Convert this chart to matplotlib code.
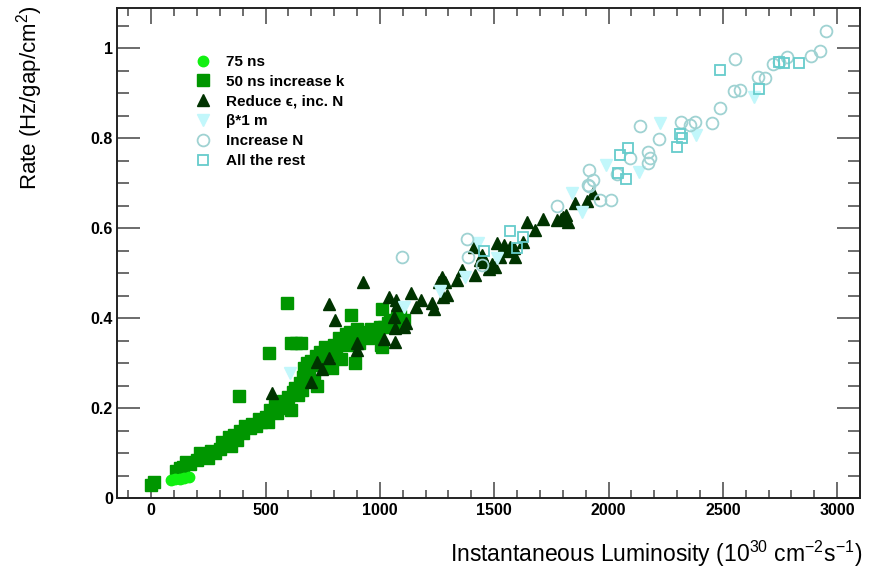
import matplotlib
matplotlib.use("Agg")
import matplotlib.pyplot as plt
from matplotlib.ticker import MultipleLocator, FuncFormatter

# ---------------- data ----------------
lumi_75ns = [85, 105, 125, 145, 165]
rate_75ns = [0.040, 0.042, 0.043, 0.045, 0.046]

lumi_50ns = [0, 10, 110, 125, 140, 150, 170, 200, 215, 230, 250, 260, 280, 300, 310, 330,
             340, 350, 360, 375, 390, 400, 410, 430, 440, 460, 470, 480, 500, 510, 520,
             540, 550, 560, 575, 590, 600, 610, 620, 630, 640, 650, 660, 665, 670, 680,
             690, 700, 710, 720, 725, 735, 740, 750, 760, 770, 780, 790, 800, 810, 820,
             830, 840, 850, 860, 870, 880, 890, 900, 910, 920, 935, 950, 960, 975, 990,
             1000, 1005, 1010, 1020, 1035, 1045, 1060, 1075, 1090, 1105,
             382, 515, 593, 610, 635, 655, 872, 1010]
rate_50ns = [0.030, 0.036, 0.060, 0.066, 0.070, 0.080, 0.075, 0.085, 0.100, 0.095, 0.090,
             0.105, 0.100, 0.110, 0.125, 0.120, 0.135, 0.115, 0.140, 0.130, 0.150, 0.145,
             0.160, 0.155, 0.165, 0.160, 0.175, 0.170, 0.180, 0.170, 0.195, 0.205, 0.190,
             0.200, 0.215, 0.210, 0.225, 0.195, 0.235, 0.245, 0.230, 0.255, 0.240, 0.270,
             0.290, 0.300, 0.280, 0.305, 0.260, 0.315, 0.250, 0.295, 0.325, 0.310, 0.335,
             0.300, 0.320, 0.290, 0.340, 0.330, 0.355, 0.310, 0.345, 0.365, 0.340, 0.370,
             0.350, 0.300, 0.375, 0.345, 0.360, 0.370, 0.355, 0.375, 0.365, 0.370, 0.380,
             0.340, 0.335, 0.380, 0.390, 0.395, 0.385, 0.400, 0.405, 0.395,
             0.227, 0.322, 0.433, 0.344, 0.344, 0.344, 0.407, 0.421]

lumi_reduce = [527, 698, 724, 748, 777, 802, 776, 898, 898, 925, 1017, 1064, 1068, 1105,
               1112, 1061, 1038, 1076, 1070, 1138, 1160, 1180, 1228, 1235, 1278, 1260, 1272,
               1286, 1294, 1337, 1359, 1417, 1460, 1475, 1490, 1504, 1439, 1410, 1446, 1512,
               1541, 1555, 1570, 1585, 1592, 1526, 1628, 1643, 1679, 1713, 1773, 1790, 1802,
               1815, 1824, 1853, 1904, 1930]
rate_reduce = [0.233, 0.258, 0.303, 0.287, 0.311, 0.396, 0.431, 0.344, 0.329, 0.481, 0.353,
               0.347, 0.378, 0.381, 0.389, 0.402, 0.447, 0.429, 0.440, 0.455, 0.424, 0.440,
               0.433, 0.420, 0.447, 0.481, 0.492, 0.481, 0.451, 0.484, 0.507, 0.496, 0.525,
               0.510, 0.520, 0.514, 0.529, 0.558, 0.540, 0.566, 0.562, 0.550, 0.558, 0.555,
               0.536, 0.536, 0.570, 0.614, 0.596, 0.621, 0.618, 0.620, 0.625, 0.630, 0.614,
               0.655, 0.659, 0.677]

lumi_beta = [608, 1105, 1263, 1374, 1431, 1512, 1839, 1882, 1988, 2132, 2224, 2384, 2638]
rate_beta = [0.278, 0.424, 0.460, 0.492, 0.567, 0.533, 0.677, 0.636, 0.740, 0.725, 0.834,
             0.807, 0.892]

lumi_incN = [1095, 1381, 1385, 1446, 1773, 1962, 2013, 1912, 1916, 1916, 1930, 2035, 2093,
             2172, 2180, 2172, 2137, 2220, 2318, 2355, 2377, 2451, 2488, 2551, 2576, 2656,
             2685, 2554, 2721, 2747, 2779, 2885, 2924, 2950]
rate_incN = [0.536, 0.575, 0.536, 0.518, 0.649, 0.662, 0.662, 0.696, 0.730, 0.693, 0.707,
             0.721, 0.755, 0.770, 0.755, 0.744, 0.827, 0.797, 0.836, 0.829, 0.836, 0.834,
             0.867, 0.904, 0.907, 0.936, 0.934, 0.975, 0.964, 0.968, 0.979, 0.982, 0.993,
             1.038]

lumi_rest = [1455, 1567, 1625, 1599, 2488, 2747, 2769, 2831, 2311, 2323, 2301, 2086, 2049,
             2042, 2078, 2660]
rate_rest = [0.550, 0.594, 0.581, 0.555, 0.952, 0.968, 0.966, 0.966, 0.810, 0.801, 0.781,
             0.778, 0.762, 0.723, 0.710, 0.908]

labels = ["75 ns", "50 ns increase k", "Reduce \u03f5, inc. N", "\u03b2*1 m",
          "Increase N", "All the rest"]

# ---------------- figure ----------------
plt.rcParams['font.family'] = ['Liberation Sans', 'DejaVu Sans']
plt.rcParams['mathtext.default'] = 'regular'

W, H = 876, 568
fig = plt.figure(figsize=(W / 100, H / 100), dpi=100)
ax = fig.add_axes([117 / W, 1 - 498 / H, (860 - 117) / W, (498 - 8) / H])

h50, = ax.plot(lumi_50ns, rate_50ns, ls='none', marker='s', ms=8.3, color='#009600',
               mec='#009600', label=labels[1])
h75, = ax.plot(lumi_75ns, rate_75ns, ls='none', marker='o', ms=7.5, color='#11f011',
               mec='#11f011', label=labels[0])
hred, = ax.plot(lumi_reduce, rate_reduce, ls='none', marker='^', ms=8.3, color='#003300',
                mec='#003300', label=labels[2])
hbeta, = ax.plot(lumi_beta, rate_beta, ls='none', marker='v', ms=8.3, color='#c2f7fb',
                 mec='#c2f7fb', label=labels[3])
hinc, = ax.plot(lumi_incN, rate_incN, ls='none', marker='o', ms=8.5, mfc='none',
                mec='#9fd2d2', mew=1.3, label=labels[4])
hrest, = ax.plot(lumi_rest, rate_rest, ls='none', marker='s', ms=7.5, mfc='none',
                 mec='#66cccc', mew=1.3, label=labels[5])

ax.set_xlim(-150, 3100)
ax.set_ylim(0, 1.089)

ax.xaxis.set_major_locator(MultipleLocator(500))
ax.xaxis.set_minor_locator(MultipleLocator(100))
ax.yaxis.set_major_locator(MultipleLocator(0.2))
ax.yaxis.set_minor_locator(MultipleLocator(0.05))
ax.yaxis.set_major_formatter(FuncFormatter(lambda v, p: ('%g' % round(v, 3))))

tc = '#444444'
ax.tick_params(axis='x', which='major', direction='in', length=11.5, width=1.1,
               color=tc, top=True, bottom=True, pad=3.5)
ax.tick_params(axis='x', which='minor', direction='in', length=5.8, width=1.1,
               color=tc, top=True, bottom=True)
ax.tick_params(axis='y', which='major', direction='in', length=16.5, width=1.1,
               color=tc, left=True, right=True, pad=3)
ax.tick_params(axis='y', which='minor', direction='in', length=8.6, width=1.1,
               color=tc, left=True, right=True)
for lab in ax.get_xticklabels() + ax.get_yticklabels():
    lab.set_fontweight('bold')
    lab.set_fontsize(11.5)
for sp in ax.spines.values():
    sp.set_linewidth(1.4)
    sp.set_color('#222222')

fig.text(862 / W, 1 - 554 / H, r"Instantaneous Luminosity (10$^{30}$ cm$^{-2}$s$^{-1}$)",
         ha='right', va='center', fontsize=16.5)
fig.text(30 / W, 1 - 6 / H, r"Rate (Hz/gap/cm$^{2}$)", rotation=90, ha='center',
         va='top', fontsize=16)

leg = ax.legend(handles=[h75, h50, hred, hbeta, hinc, hrest], loc='upper left',
                bbox_to_anchor=((195 - 117) / (860 - 117), (498 - 55) / 490),
                frameon=False, handlelength=1.0, handletextpad=1.0,
                labelspacing=0.38, borderpad=0, borderaxespad=0, numpoints=1,
                prop={'weight': 'bold', 'size': 11})

fig.savefig("out.png", dpi=100)
